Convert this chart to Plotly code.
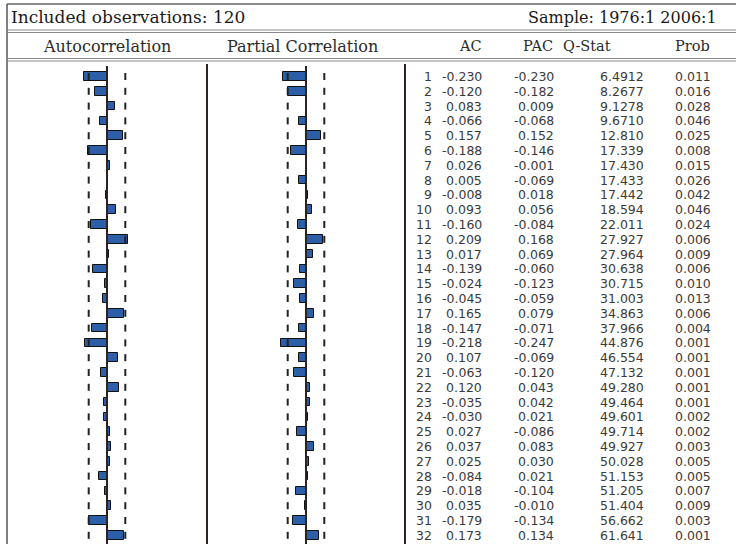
import plotly.graph_objects as go

# ---------------- data ----------------
lags = list(range(1, 33))
ac = [-0.230, -0.120, 0.083, -0.066, 0.157, -0.188, 0.026, 0.005, -0.008, 0.093,
      -0.160, 0.209, 0.017, -0.139, -0.024, -0.045, 0.165, -0.147, -0.218, 0.107,
      -0.063, 0.120, -0.035, -0.030, 0.027, 0.037, 0.025, -0.084, -0.018, 0.035,
      -0.179, 0.173]
pac = [-0.230, -0.182, 0.009, -0.068, 0.152, -0.146, -0.001, -0.069, 0.018, 0.056,
       -0.084, 0.168, 0.069, -0.060, -0.123, -0.059, 0.079, -0.071, -0.247, -0.069,
       -0.120, 0.043, 0.042, 0.021, -0.086, 0.083, 0.030, 0.021, -0.104, -0.010,
       -0.134, 0.134]
qstat = ["6.4912", "8.2677", "9.1278", "9.6710", "12.810", "17.339", "17.430", "17.433",
         "17.442", "18.594", "22.011", "27.927", "27.964", "30.638", "30.715", "31.003",
         "34.863", "37.966", "44.876", "46.554", "47.132", "49.280", "49.464", "49.601",
         "49.714", "49.927", "50.028", "51.153", "51.205", "51.404", "56.662", "61.641"]
prob = ["0.011", "0.016", "0.028", "0.046", "0.025", "0.008", "0.015", "0.026",
        "0.042", "0.046", "0.024", "0.006", "0.009", "0.006", "0.010", "0.013",
        "0.006", "0.004", "0.001", "0.001", "0.001", "0.001", "0.001", "0.002",
        "0.002", "0.003", "0.005", "0.005", "0.007", "0.009", "0.003", "0.001"]
bound = 0.183   # confidence band
n_obs = 120
sample_text = "Sample: 1976:1 2006:1"
col_headers = ["AC", "PAC", "Q-Stat", "Prob"]

# ---------------- layout helpers ----------------
W, H = 736, 544
def px(x):
    return x / W
def py(y):
    return 1 - y / H

BAR_BLUE = "#2d5ea8"
DARK = "#2b2420"
GRAY = "#8a8a8a"
SERIF = "DejaVu Serif, Liberation Serif, serif"
SANS = "DejaVu Sans, Verdana, sans-serif"

fig = go.Figure()

# ACF bars
fig.add_trace(go.Bar(x=ac, y=lags, orientation="h", width=0.58, base=0,
                     marker=dict(color=BAR_BLUE, line=dict(color="#111111", width=1)),
                     xaxis="x", yaxis="y", showlegend=False))
# PACF bars
fig.add_trace(go.Bar(x=pac, y=lags, orientation="h", width=0.58, base=0,
                     marker=dict(color=BAR_BLUE, line=dict(color="#111111", width=1)),
                     xaxis="x2", yaxis="y", showlegend=False))

# confidence-band dashes
for xa in ["x", "x2"]:
    for sgn in (-1, 1):
        fig.add_trace(go.Scatter(x=[sgn * bound] * len(lags), y=lags, mode="markers",
                                 marker=dict(symbol="line-ns", size=5,
                                             line=dict(color="#222222", width=2)),
                                 xaxis=xa, yaxis="y", showlegend=False, hoverinfo="skip"))

# axes: 100 px per unit of correlation, zero at x=107 (ACF) and x=306 (PACF)
k = 100.0
acf_l, acf_r, acf_0 = 8, 206, 107
pac_l, pac_r, pac_0 = 208, 404, 306
row0_px, row_step = 76.5, 14.8
top_px = 64
y_top = 1 + (top_px - row0_px) / row_step
y_bot = 1 + (H - row0_px) / row_step

fig.update_layout(
    width=W, height=H, margin=dict(l=0, r=0, t=0, b=0),
    paper_bgcolor="white", plot_bgcolor="rgba(0,0,0,0)",
    bargap=0,
    xaxis=dict(domain=[px(acf_l), px(acf_r)],
               range=[-(acf_0 - acf_l) / k, (acf_r - acf_0) / k],
               visible=False, fixedrange=True),
    xaxis2=dict(domain=[px(pac_l), px(pac_r)],
                range=[-(pac_0 - pac_l) / k, (pac_r - pac_0) / k],
                visible=False, fixedrange=True),
    yaxis=dict(domain=[0, py(top_px)], range=[y_bot, y_top],
               visible=False, fixedrange=True),
)

shapes = []
# zero lines
for xa in ["x", "x2"]:
    shapes.append(dict(type="line", xref=xa, yref="paper", x0=0, x1=0,
                       y0=py(66), y1=0, line=dict(color=DARK, width=2)))
# separators
for xp in (207, 405):
    shapes.append(dict(type="line", xref="paper", yref="paper", x0=px(xp), x1=px(xp),
                       y0=py(64), y1=0, line=dict(color=DARK, width=2)))
# left border
shapes.append(dict(type="line", xref="paper", yref="paper", x0=px(7), x1=px(7),
                   y0=py(4), y1=0, line=dict(color="#555555", width=1.5)))
# top line
shapes.append(dict(type="line", xref="paper", yref="paper", x0=px(7), x1=1,
                   y0=py(4), y1=py(4), line=dict(color="#666666", width=1.5)))
# double lines
for yy in (30, 32.5, 58.5, 61):
    shapes.append(dict(type="line", xref="paper", yref="paper", x0=px(7), x1=1,
                       y0=py(yy), y1=py(yy), line=dict(color=GRAY, width=1)))
fig.update_layout(shapes=shapes)

ann = []
ann.append(dict(text=f"Included observations: {n_obs}", xref="paper", yref="paper",
                x=px(9), y=py(17), xanchor="left", yanchor="middle", showarrow=False,
                font=dict(family=SERIF, size=17, color="#1a1a1a")))
ann.append(dict(text=sample_text, xref="paper", yref="paper",
                x=px(719), y=py(17), xanchor="right", yanchor="middle", showarrow=False,
                font=dict(family=SERIF, size=16, color="#1a1a1a")))
ann.append(dict(text="Autocorrelation", xref="paper", yref="paper",
                x=px(107), y=py(46), xanchor="center", yanchor="middle", showarrow=False,
                font=dict(family=SERIF, size=16, color="#2a2a2a")))
ann.append(dict(text="Partial Correlation", xref="paper", yref="paper",
                x=px(302), y=py(46), xanchor="center", yanchor="middle", showarrow=False,
                font=dict(family=SERIF, size=16, color="#2a2a2a")))
hdr_right = [484, 555, 613, 712]
for h, xr in zip(col_headers, hdr_right):
    ann.append(dict(text=h, xref="paper", yref="paper", x=px(xr), y=py(46),
                    xanchor="right", yanchor="middle", showarrow=False,
                    font=dict(family=SERIF, size=14.5, color="#2a2a2a")))

col_right = [434, 484, 556, 646, 713]
for i, lag in enumerate(lags):
    vals = [str(lag), f"{ac[i]:.3f}", f"{pac[i]:.3f}", qstat[i], prob[i]]
    for v, xr in zip(vals, col_right):
        ann.append(dict(text=v, xref="paper", yref="y", x=px(xr), y=lag,
                        xanchor="right", yanchor="middle", showarrow=False,
                        font=dict(family=SANS, size=12.5, color="#3a3a3a")))
fig.update_layout(annotations=ann)

fig.write_html("out.html", config={"displayModeBar": False},
               post_script="document.body.style.margin='0px';")
